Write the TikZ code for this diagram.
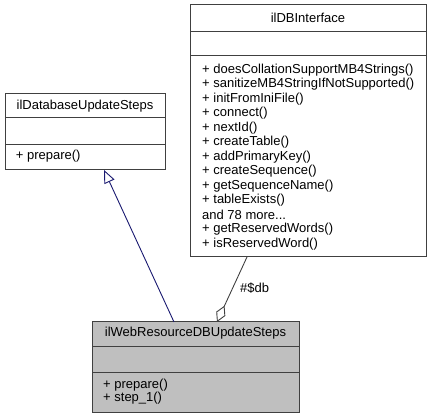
\documentclass[tikz,border=0pt]{standalone}
\usepackage{fontspec}
\setmainfont{Liberation Sans}
\usetikzlibrary{arrows.meta}
\definecolor{edgegray}{HTML}{404040}
\definecolor{navy}{HTML}{191970}
\definecolor{curfill}{HTML}{BFBFBF}
\newcommand\mydots{...}
\begin{document}
\begin{tikzpicture}[x=1pt,y=-1pt,
  classbox/.style={draw=edgegray,line width=1pt,anchor=north west,inner sep=0pt,outer sep=0pt},
  sepline/.style={draw=edgegray,line width=1pt},
  txt/.style={inner sep=0pt,font=\fontsize{13}{14.5}\selectfont},
  inherit/.style={draw=navy,line width=0.9pt,-{Triangle[open,length=13pt,width=11pt,fill=white]}},
  aggr/.style={draw=edgegray,line width=0.9pt,{Diamond[open,length=18pt,width=10pt,fill=white]}-}]
\useasboundingbox (0,0) rectangle (431,419);
% ilDBInterface
\node[classbox,minimum width=236pt,minimum height=252pt,fill=white] (dbi) at (190,5) {};
\draw[sepline] (190,32) -- (426,32);
\draw[sepline] (190,56) -- (426,56);
\node[txt] (dbit) at (308,18) {ilDBInterface};
\foreach \t [count=\i from 0] in {{+ doesCollationSupportMB4Strings()},{+ sanitizeMB4StringIfNotSupported()},{+ initFromIniFile()},{+ connect()},{+ nextId()},{+ createTable()},{+ addPrimaryKey()},{+ createSequence()},{+ getSequenceName()},{+ tableExists()},{and 78 more\mydots},{+ getReservedWords()},{+ isReservedWord()}}
  \node[txt,anchor=west] (dbim\i) at (202,69.8+14.5*\i) {\t};
% ilDatabaseUpdateSteps
\node[classbox,minimum width=160pt,minimum height=76pt,fill=white] (dbu) at (5,94) {};
\draw[sepline] (5,118) -- (165,118);
\draw[sepline] (5,145) -- (165,145);
\node[txt] (dbut) at (85,106) {ilDatabaseUpdateSteps};
\node[txt,anchor=west] (dbum) at (15.7,156.5) {+ prepare()};
% ilWebResourceDBUpdateSteps
\node[classbox,minimum width=207pt,minimum height=90pt,fill=curfill] (web) at (92,322) {};
\draw[sepline] (92,347) -- (299,347);
\draw[sepline] (92,373) -- (299,373);
\node[txt] (webt) at (195.5,333) {ilWebResourceDBUpdateSteps};
\node[txt,anchor=west] (webm0) at (103,385) {+ prepare()};
\node[txt,anchor=west] (webm1) at (103,398.5) {+ step\_1()};
% connectors
\draw[inherit] ([xshift=82pt]web.north west) -- ([xshift=99pt]dbu.south west);
\draw[aggr] ([xshift=125pt]web.north west) -- ([xshift=57pt]dbi.south west);
\node[txt,anchor=west] (lbl) at (240,288) {\#\$db};
\end{tikzpicture}
\end{document}
